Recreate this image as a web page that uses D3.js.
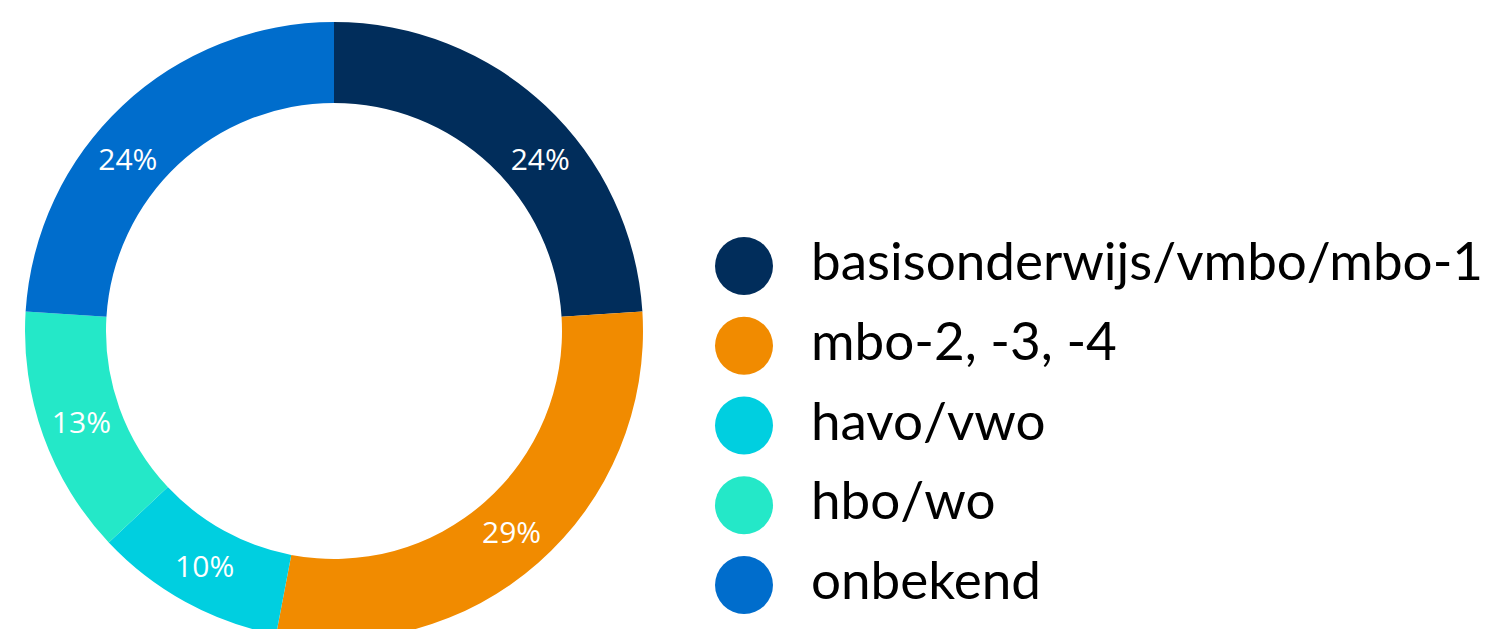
<!DOCTYPE html>
<html>
<head>
<meta charset="utf-8">
<script src="https://cdn.jsdelivr.net/npm/d3@7"></script>
<style>
  html, body { margin: 0; padding: 0; background: #fff; }
  svg { display: block; }
  .slice-label { font-family: "Open Sans", sans-serif; font-size: 30px; fill: #fff; }
  .legend-label { font-family: Lato, sans-serif; font-size: 53px; fill: #000; }
</style>
</head>
<body>
<svg id="chart" width="1496" height="629"></svg>
<script>
var categories = ["basisonderwijs/vmbo/mbo-1", "mbo-2, -3, -4", "havo/vwo", "hbo/wo", "onbekend"];
var values = [24, 29, 10, 13, 24];
var colors = ["#012d5b", "#f18b00", "#00cfe0", "#24e8c8", "#006dcc"];

var svg = d3.select("#chart"),
    cx = 334, cy = 331,
    outerR = 309, innerR = 228;

var data = categories.map(function(c, i) { return {name: c, value: values[i], color: colors[i]}; });

var pie = d3.pie()
    .sort(null)
    .value(function(d) { return d.value; });

var arc = d3.arc()
    .innerRadius(innerR)
    .outerRadius(outerR);

var donut = svg.append("g").attr("transform", "translate(" + cx + "," + cy + ")");

var arcs = pie(data);

donut.selectAll("path")
    .data(arcs)
    .enter().append("path")
      .attr("d", arc)
      .attr("fill", function(d) { return d.data.color; });

// labels sit on the middle of the ring, but are kept below a top limit
// (slid along the ring) like the original chart does
var labelTop = -172;
function labelPos(d) {
  var c = arc.centroid(d),
      r = Math.sqrt(c[0] * c[0] + c[1] * c[1]);
  if (c[1] < labelTop) {
    var y = labelTop,
        x = Math.sign(c[0]) * Math.sqrt(r * r - y * y);
    return [x, y];
  }
  return c;
}

donut.selectAll(".slice-label")
    .data(arcs)
    .enter().append("text")
      .attr("class", "slice-label")
      .attr("transform", function(d) { return "translate(" + labelPos(d) + ")"; })
      .attr("text-anchor", "middle")
      .attr("dy", "0.36em")
      .text(function(d) { return d.data.value + "%"; });

// legend
var legendY = d3.scalePoint()
    .domain(categories)
    .range([266, 585]);

var legend = svg.append("g");

var item = legend.selectAll(".item")
    .data(data)
    .enter().append("g")
      .attr("class", "item")
      .attr("transform", function(d) { return "translate(744," + legendY(d.name) + ")"; });

item.append("circle")
    .attr("r", 29)
    .attr("fill", function(d) { return d.color; });

item.append("text")
    .attr("class", "legend-label")
    .attr("x", 67)
    .attr("y", 14)
    .text(function(d) { return d.name; });
</script>
</body>
</html>
